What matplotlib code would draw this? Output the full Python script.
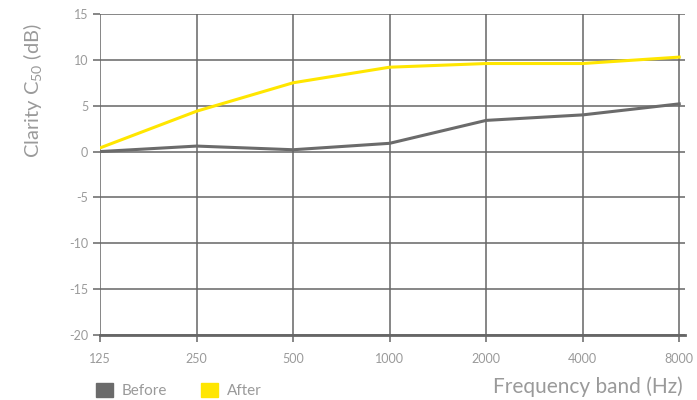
import matplotlib.pyplot as plt
from matplotlib.patches import Patch

bands = ['125', '250', '500', '1000', '2000', '4000', '8000']
before = [0.0, 0.6, 0.2, 0.9, 3.4, 4.0, 5.2]
after = [0.4, 4.4, 7.5, 9.2, 9.6, 9.6, 10.3]

grid_col = '#666666'
txt_col = '#9a9a9a'
before_col = '#6b6b6b'
after_col = '#ffe600'

plt.rcParams['font.family'] = ['Lato', 'DejaVu Sans']
plt.rcParams['mathtext.default'] = 'regular'
plt.rcParams['axes.unicode_minus'] = False

fig = plt.figure(figsize=(6.97, 4.0), dpi=100)
ax = fig.add_axes([0.1435, 0.1625, 0.8393, 0.8025])

x = range(len(bands))
ax.plot(x, after, color=after_col, lw=2.2, zorder=3)
ax.plot(x, before, color=before_col, lw=2.2, zorder=3)

ax.set_xlim(0, 6.06)
ax.set_ylim(-20, 15)
ax.set_xticks(list(x))
ax.set_xticklabels(bands)
ax.set_yticks(range(-20, 16, 5))

ax.grid(True, color=grid_col, lw=1.1)
ax.set_axisbelow(True)
for s in ['top', 'right', 'left']:
    ax.spines[s].set_visible(False)
ax.spines['bottom'].set_color(grid_col)
ax.spines['bottom'].set_linewidth(2)
ax.tick_params(axis='both', colors=grid_col, length=5, width=1.1,
               labelcolor=txt_col, labelsize=9)
ax.tick_params(axis='x', pad=8)

ax.set_ylabel('Clarity C$_{50}$ (dB)', fontsize=14.5, color=txt_col, va='center')
ax.yaxis.set_label_coords(-0.115, 0.76)
fig.text(0.98, 0.018, 'Frequency band (Hz)', fontsize=15, color=txt_col,
         ha='right', va='baseline')

handles = [Patch(color=before_col, label='Before'), Patch(color=after_col, label='After')]
fig.legend(handles=handles, loc='lower left', bbox_to_anchor=(0.118, -0.03),
           ncol=2, frameon=False, fontsize=11, labelcolor=txt_col,
           handlelength=1.1, handleheight=1.1, columnspacing=2.2, handletextpad=0.6)

fig.savefig('out.png', dpi=100)
